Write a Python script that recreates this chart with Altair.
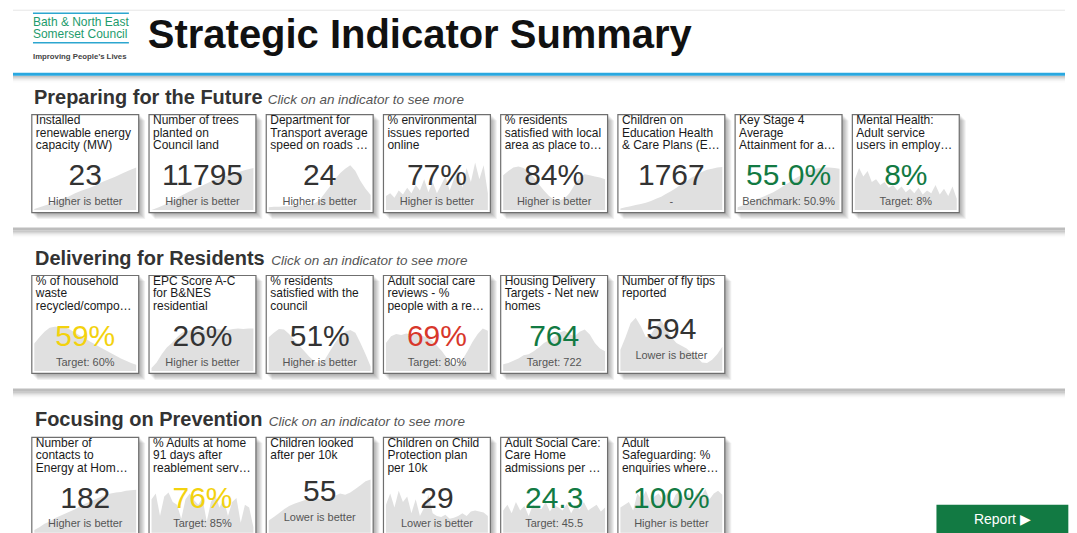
import altair as alt
import pandas as pd

FONT = "Liberation Sans"

# ------------------------------------------------------------------ data
page_title = "Strategic Indicator Summary"
logo_lines = ["Bath & North East", "Somerset Council"]
logo_tagline = "Improving People’s Lives"
section_names = ["Preparing for the Future", "Delivering for Residents", "Focusing on Prevention"]
section_hint = "Click on an indicator to see more"
button_label = "Report ▶"

row1_titles = [
    ["Installed", "renewable energy", "capacity (MW)"],
    ["Number of trees", "planted on", "Council land"],
    ["Department for", "Transport average", "speed on roads …"],
    ["% environmental", "issues reported", "online"],
    ["% residents", "satisfied with local", "area as place to…"],
    ["Children on", "Education Health", "& Care Plans (E…"],
    ["Key Stage 4", "Average", "Attainment for a…"],
    ["Mental Health:", "Adult service", "users in employ…"],
]
row1_values = ["23", "11795", "24", "77%", "84%", "1767", "55.0%", "8%"]
row1_notes = ["Higher is better", "Higher is better", "Higher is better", "Higher is better",
              "Higher is better", "-", "Benchmark: 50.9%", "Target: 8%"]
row1_status = ["neutral", "neutral", "neutral", "neutral", "neutral", "neutral", "good", "good"]
row1_trends = [
    [0.02, 0.06, 0.10, 0.15, 0.20, 0.24, 0.30, 0.35, 0.39, 0.44, 0.50, 0.55, 0.60, 0.66, 0.71, 0.76],
    [0.00, 0.05, 0.11, 0.18, 0.25, 0.32, 0.38, 0.44, 0.50, 0.55, 0.60, 0.64, 0.68, 0.72, 0.75],
    [0.05, 0.06, 0.06, 0.07, 0.07, 0.08, 0.08, 0.09, 0.10, 0.12, 0.18, 0.30, 0.42, 0.55, 0.66, 0.74,
     0.80, 0.70, 0.52, 0.38, 0.27],
    [0.25, 0.30, 0.22, 0.35, 0.28, 0.40, 0.30, 0.45, 0.35, 0.55, 0.32, 0.50, 0.30, 0.45, 0.60, 0.35,
     0.55, 0.70, 0.40, 0.75, 0.50, 0.85, 0.55, 0.80, 0.30],
    [0.62, 0.70, 0.76, 0.78, 0.75, 0.68, 0.58, 0.46, 0.35, 0.25, 0.19, 0.17, 0.20, 0.30, 0.45, 0.58,
     0.64, 0.62, 0.60, 0.58, 0.55],
    [0.03, 0.05, 0.07, 0.09, 0.11, 0.13, 0.16, 0.20, 0.24, 0.29, 0.34, 0.40, 0.46, 0.52, 0.58, 0.63,
     0.68, 0.72, 0.74, 0.76, 0.77],
    [0.05, 0.08, 0.12, 0.16, 0.20, 0.24, 0.28, 0.32, 0.37, 0.43, 0.49, 0.55, 0.60, 0.65, 0.70, 0.73,
     0.75, 0.76, 0.76, 0.75, 0.74],
    [0.55, 0.75, 0.60, 0.70, 0.50, 0.55, 0.45, 0.50, 0.40, 0.45, 0.35, 0.42, 0.32, 0.38, 0.30, 0.40,
     0.28, 0.35, 0.30, 0.45, 0.28, 0.38, 0.25, 0.42, 0.20],
]

row2_titles = [
    ["% of household", "waste", "recycled/compo…"],
    ["EPC Score A-C", "for B&NES", "residential"],
    ["% residents", "satisfied with the", "council"],
    ["Adult social care", "reviews - %", "people with a re…"],
    ["Housing Delivery", "Targets - Net new", "homes"],
    ["Number of fly tips", "reported"],
]
row2_values = ["59%", "26%", "51%", "69%", "764", "594"]
row2_notes = ["Target: 60%", "Higher is better", "Higher is better", "Target: 80%", "Target: 722",
              "Lower is better"]
row2_status = ["amber", "neutral", "neutral", "bad", "good", "neutral"]
row2_trends = [
    [0.49, 0.60, 0.70, 0.77, 0.79, 0.79, 0.78, 0.74, 0.68, 0.63, 0.58, 0.52, 0.47, 0.42, 0.37, 0.32,
     0.27, 0.22, 0.18, 0.14, 0.11],
    [0.05, 0.15, 0.30, 0.42, 0.50, 0.60, 0.68, 0.72, 0.73, 0.74, 0.72, 0.73, 0.74, 0.75, 0.74, 0.73,
     0.75, 0.76, 0.75, 0.76, 0.76],
    [0.60, 0.68, 0.75, 0.74, 0.66, 0.55, 0.45, 0.35, 0.25, 0.17, 0.14, 0.20, 0.35, 0.50, 0.62, 0.70,
     0.73, 0.68, 0.50, 0.30, 0.08],
    [0.50, 0.62, 0.66, 0.64, 0.67, 0.65, 0.66, 0.63, 0.60, 0.55, 0.45, 0.35, 0.22, 0.12, 0.11, 0.20,
     0.35, 0.52, 0.66, 0.76, 0.72],
    [0.12, 0.14, 0.18, 0.22, 0.28, 0.30, 0.35, 0.42, 0.50, 0.55, 0.60, 0.68, 0.72, 0.66, 0.62, 0.70,
     0.74, 0.65, 0.50, 0.40, 0.35],
    [0.38, 0.60, 0.85, 0.95, 0.80, 0.60, 0.65, 0.80, 0.90, 0.75, 0.60, 0.50, 0.45, 0.40, 0.32, 0.25,
     0.15, 0.14, 0.20, 0.30, 0.43],
]

row3_titles = [
    ["Number of", "contacts to", "Energy at Hom…"],
    ["% Adults at home", "91 days after", "reablement serv…"],
    ["Children looked", "after per 10k"],
    ["Children on Child", "Protection plan", "per 10k"],
    ["Adult Social Care:", "Care Home", "admissions per …"],
    ["Adult", "Safeguarding: %", "enquiries where…"],
]
row3_values = ["182", "76%", "55", "29", "24.3", "100%"]
row3_notes = ["Higher is better", "Target: 85%", "Lower is better", "Lower is better", "Target: 45.5",
              "Higher is better"]
row3_status = ["neutral", "amber", "neutral", "neutral", "good", "good"]
row3_trends = [
    [0.05, 0.10, 0.16, 0.20, 0.26, 0.30, 0.34, 0.38, 0.42, 0.48, 0.52, 0.56, 0.60, 0.64, 0.68, 0.70,
     0.72, 0.73, 0.75, 0.76, 0.77],
    [0.60, 0.70, 0.30, 0.65, 0.72, 0.55, 0.50, 0.25, 0.60, 0.70, 0.58, 0.50, 0.62, 0.20, 0.55, 0.68,
     0.45, 0.60, 0.30, 0.55, 0.62, 0.18, 0.50, 0.45, 0.10],
    [0.22, 0.28, 0.35, 0.42, 0.48, 0.52, 0.55, 0.58, 0.60, 0.62, 0.60, 0.58, 0.62, 0.66, 0.70, 0.68,
     0.72, 0.78, 0.85, 0.92, 0.95],
    [0.50, 0.70, 0.45, 0.75, 0.55, 0.65, 0.35, 0.60, 0.30, 0.45, 0.68, 0.35, 0.30, 0.28, 0.32, 0.25,
     0.27, 0.30, 0.35, 0.30, 0.38, 0.40, 0.38, 0.36, 0.30],
    [0.40, 0.50, 0.35, 0.55, 0.40, 0.48, 0.30, 0.50, 0.45, 0.42, 0.55, 0.38, 0.50, 0.45, 0.40, 0.52,
     0.35, 0.48, 0.42, 0.55, 0.40, 0.45, 0.50, 0.38, 0.45],
    [0.45, 0.50, 0.55, 0.40, 0.70, 0.60, 0.75, 0.55, 0.65, 0.70, 0.60, 0.72, 0.50, 0.68, 0.75, 0.60,
     0.70, 0.55, 0.72, 0.65, 0.78, 0.60, 0.70, 0.75, 0.68],
]

status_colors = {"neutral": "#333333", "good": "#127a43", "amber": "#f3d20e", "bad": "#d8372b"}

# ------------------------------------------------------------------ layout helpers
TOTAL_W = 1061
LINE_END = 1058
CARD_W, CARD_H, SHADOW = 108, 99, 6
VIEW_W = CARD_W + SHADOW
VIEW_H = CARD_H + SHADOW
PITCH = 117.33
GAP = PITCH - VIEW_W
LEFT = 23

one = pd.DataFrame({"k": [0]})


def base():
    return alt.Chart(one)


def txt(text, x, y, size, color, weight="normal", style="normal", align="left", baseline="alphabetic",
        line_height=None):
    kw = dict(align=align, baseline=baseline, fontSize=size, fontWeight=weight, fontStyle=style,
              color=color, font=FONT)
    if line_height is not None:
        kw["lineHeight"] = line_height
    return base().mark_text(**kw).encode(x=alt.value(x), y=alt.value(y), text=alt.value(text))


def hline(x1, x2, y, color, width, opacity=1.0):
    return base().mark_rule(color=color, strokeWidth=width, opacity=opacity).encode(
        x=alt.value(x1), x2=alt.value(x2), y=alt.value(y))


def shadow_rules(x1, x2, y0):
    ops = [0.26, 0.2, 0.14, 0.09, 0.06, 0.03, 0.015]
    return [hline(x1, x2, y0 + i, "black", 1, op) for i, op in enumerate(ops)]


def card(lines, value, note, status, trend):
    layers = []
    for k in range(1, SHADOW + 1):
        layers.append(base().mark_rect(color="black", opacity=0.055).encode(
            x=alt.value(k), x2=alt.value(CARD_W + k), y=alt.value(k), y2=alt.value(CARD_H + k)))
    layers.append(base().mark_rect(fill="white", stroke="#6f6f6f", strokeWidth=1.2).encode(
        x=alt.value(0.5), x2=alt.value(CARD_W - 0.5), y=alt.value(0.5), y2=alt.value(CARD_H - 0.5)))
    n = len(trend)
    tdf = pd.DataFrame({"step": list(range(n)), "level": trend})
    layers.append(alt.Chart(tdf).mark_area(color="#e0e0e0").encode(
        x=alt.X("step:Q", axis=None,
                scale=alt.Scale(domain=[0, n - 1], range=[3, CARD_W - 3], nice=False, zero=False)),
        y=alt.Y("level:Q", axis=None,
                scale=alt.Scale(domain=[0, 1], range=[CARD_H - 3, 40], nice=False))))
    shift = 0 if len(lines) >= 3 else -6.5
    layers.append(txt(lines, 4.5, 10, 12, "#1a1a1a", line_height=12.5))
    layers.append(txt(value, CARD_W / 2, 62 + shift, 30, status_colors[status], align="center",
                      baseline="middle"))
    layers.append(txt(note, CARD_W / 2, 87.7 + shift, 11, "#555555", align="center", baseline="middle"))
    return alt.layer(*layers).properties(width=VIEW_W, height=VIEW_H)


def spacer():
    return base().mark_rect(opacity=0).encode(
        x=alt.value(0), x2=alt.value(1), y=alt.value(0), y2=alt.value(1)
    ).properties(width=LEFT - GAP, height=VIEW_H)


def card_row(titles, values, notes, statuses, trends, extra=None):
    items = [spacer()]
    for t, v, n, s, tr in zip(titles, values, notes, statuses, trends):
        items.append(card(t, v, n, s, tr))
    if extra is not None:
        items.append(extra)
    return alt.hconcat(*items, spacing=GAP, bounds="flush")


# ------------------------------------------------------------------ header + section 1 heading
header_layers = [
    hline(5, LINE_END, 2, "#e6e6e6", 1),
    hline(25, 121, 5, "#2ca6cf", 1.6),
    txt(logo_lines[0], 25, 17.5, 12, "#1d9b6c"),
    txt(logo_lines[1], 25, 30, 12, "#1d9b6c"),
    hline(25, 121, 34.5, "#2ca6cf", 1.6),
    txt(logo_tagline, 25, 51, 7.8, "#444444", weight="bold"),
    txt(page_title, 140, 40, 40, "#111111", weight="bold"),
]
header_layers += shadow_rules(5, LINE_END, 68)
header_layers += [
    hline(5, LINE_END, 66, "#2aa8e0", 3),
    txt(section_names[0], 26, 95.5, 20, "#333333", weight="bold"),
    txt(section_hint, 260, 95.5, 13.5, "#555555", style="italic"),
]
header = alt.layer(*header_layers).properties(width=TOTAL_W, height=106)


# A band covers one card row (drawn on top of it in the stack) plus the gap below it,
# holding the separator and the next section heading.
def section_band(name, hint_x, h):
    sep_y = CARD_H + 16
    layers = shadow_rules(5, LINE_END, sep_y + 2)
    layers += [
        hline(5, LINE_END, sep_y, "#bdbdbd", 3),
        txt(name, 27, h - 10.5, 20, "#333333", weight="bold"),
        txt(section_hint, hint_x, h - 10.5, 13.5, "#555555", style="italic"),
    ]
    return alt.layer(*layers).properties(width=TOTAL_W, height=h)


sec2 = section_band(section_names[1], 263.5, 161)
sec3 = section_band(section_names[2], 261, 162)

button_w = TOTAL_W - (LEFT + 5 * PITCH + VIEW_W + GAP)
button = alt.layer(
    base().mark_rect(color="#127a43").encode(
        x=alt.value(button_w - 132), x2=alt.value(button_w), y=alt.value(68), y2=alt.value(CARD_H)),
    txt(button_label, button_w - 66, 83, 14, "white", align="center", baseline="middle"),
).properties(width=button_w, height=VIEW_H)

row1 = card_row(row1_titles, row1_values, row1_notes, row1_status, row1_trends)
row2 = card_row(row2_titles, row2_values, row2_notes, row2_status, row2_trends)
row3 = card_row(row3_titles, row3_values, row3_notes, row3_status, row3_trends, button)

chart = alt.vconcat(header, row1, sec2, row2, sec3, row3, spacing=0, bounds="flush").properties(
    padding=0, background="white"
).configure(font=FONT).configure_view(stroke="transparent", strokeWidth=0)

chart.save("out.html", embed_options={"renderer": "svg", "actions": False})
